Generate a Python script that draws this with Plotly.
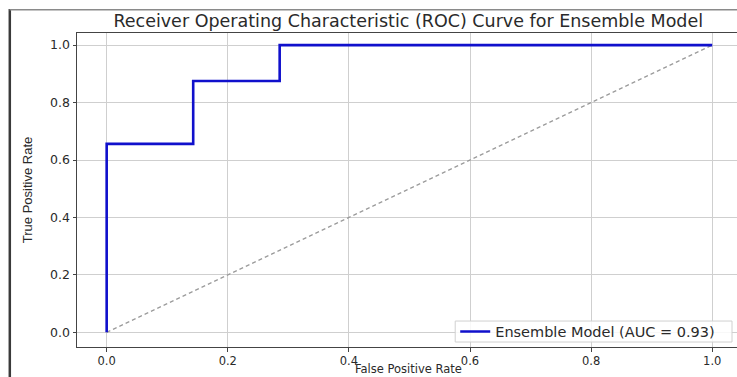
import plotly.graph_objects as go

# ROC curve points (false positive rate, true positive rate)
fpr = [0.0, 0.0, 0.0, 0.1429, 0.1429, 0.2857, 0.2857, 1.0]
tpr = [0.0, 0.0, 0.656, 0.656, 0.875, 0.875, 1.0, 1.0]
auc_value = 0.93

# chance diagonal
chance_x = [0.0, 1.0]
chance_y = [0.0, 1.0]

tick_vals = [0.0, 0.2, 0.4, 0.6, 0.8, 1.0]
tick_text = ["0.0", "0.2", "0.4", "0.6", "0.8", "1.0"]

W, H = 737, 377
L, R, T, B = 76.5, 0, 32.5, 30.0
plot_w = W - L - R
plot_h = H - T - B


def px_to_paper_x(px):
    return (px - L) / plot_w


def px_to_paper_y(py):
    return (H - B - py) / plot_h


font_main = "DejaVu Sans, Verdana, sans-serif"
text_col = "#2a2a2a"

fig = go.Figure()

fig.add_trace(go.Scatter(
    x=chance_x, y=chance_y, mode="lines",
    line=dict(color="#9a9a9a", width=1.2, dash="4px,3px"),
    showlegend=False, hoverinfo="skip",
))

fig.add_trace(go.Scatter(
    x=fpr, y=tpr, mode="lines",
    line=dict(color="#1010cc", width=2.6),
    name=f"Ensemble Model (AUC = {auc_value:.2f})",
))

axis_common = dict(
    showgrid=True, gridcolor="#cfcfcf", gridwidth=1,
    zeroline=False,
    showline=True, linecolor="#444444", linewidth=1,
    ticks="outside", ticklen=3.5, tickcolor="#444444",
    tickvals=tick_vals, ticktext=tick_text,
)

fig.update_xaxes(
    **axis_common,
    range=[-0.049, -0.049 + plot_w / 606.0],
    mirror=True,
    ticklabelstandoff=0,
    tickfont=dict(family=font_main, size=11.5, color=text_col),
)
fig.update_yaxes(
    **axis_common,
    range=[-0.051, -0.051 + plot_h / 287.7],
    mirror=False,
    tickfont=dict(family=font_main, size=12.5, color=text_col),
    title=dict(text="True Positive Rate", standoff=14,
               font=dict(family="Liberation Sans Narrow, Liberation Sans, Arial, sans-serif",
                         size=13, color=text_col)),
)

# x-axis title placed just under the tick labels, flush with the bottom edge
fig.add_annotation(
    text="False Positive Rate", showarrow=False,
    xref="paper", yref="paper",
    x=px_to_paper_x(408), y=px_to_paper_y(H),
    xanchor="center", yanchor="bottom", borderpad=0,
    font=dict(family=font_main, size=11.5, color=text_col),
)

# outer figure frame: dark left edge, light top edge
fig.add_shape(type="rect", xref="paper", yref="paper",
              x0=px_to_paper_x(8), x1=px_to_paper_x(10.5),
              y0=px_to_paper_y(8.5), y1=px_to_paper_y(H),
              line=dict(width=0), fillcolor="#3a3a3a")
fig.add_shape(type="rect", xref="paper", yref="paper",
              x0=px_to_paper_x(9), x1=px_to_paper_x(W),
              y0=px_to_paper_y(8.5), y1=px_to_paper_y(10),
              line=dict(width=0), fillcolor="#8a8a8a")

# legend frame (semi-opaque white box over the plot)
fig.add_shape(type="rect", xref="paper", yref="paper", layer="above",
              x0=px_to_paper_x(455), x1=px_to_paper_x(732),
              y0=px_to_paper_y(342), y1=px_to_paper_y(321),
              line=dict(color="#d0d0d0", width=1),
              fillcolor="rgba(255,255,255,0.85)")

fig.update_layout(
    width=W, height=H,
    margin=dict(l=L, r=R, t=T, b=B, pad=0),
    paper_bgcolor="white", plot_bgcolor="white",
    title=dict(text="Receiver Operating Characteristic (ROC) Curve for Ensemble Model",
               x=px_to_paper_x(408), xref="paper", xanchor="center",
               y=1 - 20.5 / H, yanchor="middle",
               font=dict(family=font_main, size=17.5, color=text_col)),
    legend=dict(
        x=px_to_paper_x(455), y=px_to_paper_y(331.5),
        xanchor="left", yanchor="middle",
        bgcolor="rgba(0,0,0,0)", borderwidth=0,
        font=dict(family=font_main, size=14.5, color=text_col),
        tracegroupgap=0,
    ),
    showlegend=True,
)

fig.write_html("out.html")
